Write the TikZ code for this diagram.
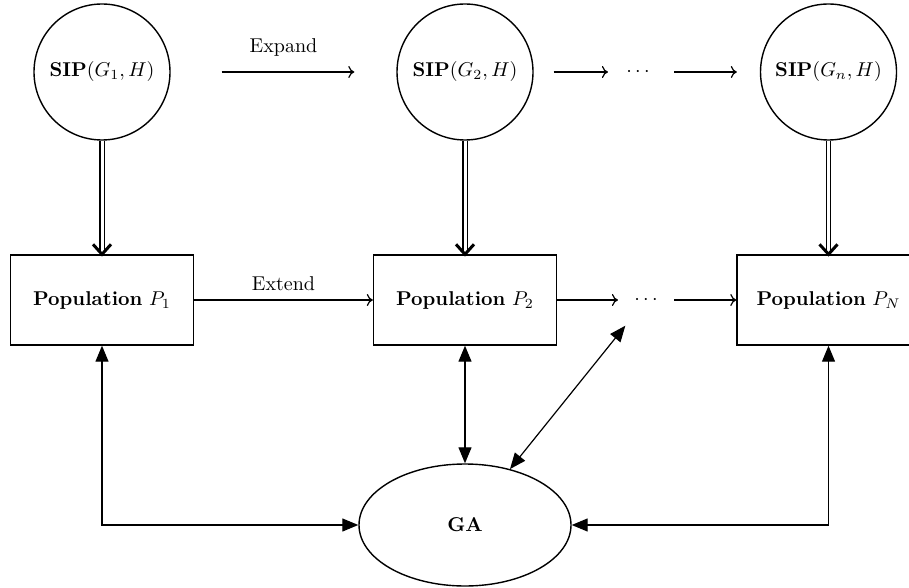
\documentclass[tikz,border=0pt]{standalone}
\usetikzlibrary{arrows.meta,shapes.geometric,calc}
\begin{document}
\begin{tikzpicture}[x=1pt,y=1pt,
  sipnode/.style={circle,draw,line width=0.7pt,minimum size=68pt,inner sep=0pt},
  popnode/.style={rectangle,draw,line width=0.7pt,minimum width=91.5pt,minimum height=45pt,inner sep=0pt},
  ganode/.style={ellipse,draw,line width=0.7pt,minimum width=106pt,minimum height=61pt,inner sep=0pt},
  dotsnode/.style={inner sep=0pt},
  flow/.style={line width=0.6pt,-{To[length=3pt,width=6pt]}},
  link/.style={line width=0.6pt,{Triangle[length=8pt,width=6.5pt]}-{Triangle[length=8pt,width=6.5pt]}},
  feed/.style={line width=0.65pt,double,double distance=1.5pt,shorten >=1pt},
  barb/.style={line width=1.5pt,line join=miter}
]
\useasboundingbox (0,0) rectangle (454.5,-294);

% search problems
\node[sipnode] (c1) at (51,-36) {$\mathbf{SIP}(G_1,H)$};
\node[sipnode] (c2) at (232.5,-36) {$\mathbf{SIP}(G_2,H)$};
\node[sipnode] (cn) at (414.25,-36) {$\mathbf{SIP}(G_n,H)$};
\node[dotsnode] (tdots) at (319,-36) {$\cdots$};

% populations
\node[popnode] (b1) at (51,-150) {\textbf{Population} $P_1$};
\node[popnode] (b2) at (232.5,-150) {\textbf{Population} $P_2$};
\node[popnode] (bN) at (414.25,-150) {\textbf{Population} $P_N$};
\node[dotsnode] (mdots) at (323,-150) {$\cdots$};

% genetic algorithm
\node[ganode] (ga) at (232.5,-262.5) {\textbf{GA}};

% top row
\draw[flow,shorten <=25.5pt,shorten >=21pt] (c1) -- node[above=4pt]{Expand} (c2);
\draw[flow,shorten <=10pt,shorten >=9pt] (c2) -- (tdots);
\draw[flow,shorten <=12pt,shorten >=11.5pt] (tdots) -- (cn);

% middle row
\draw[flow] (b1) -- node[above=1pt]{Extend} (b2);
\draw[flow,shorten >=8pt] (b2) -- (mdots);
\draw[flow,shorten <=8pt] (mdots) -- (bN);

% problems feed the populations
\foreach \c/\b in {c1/b1,c2/b2,cn/bN}{
  \draw[feed] (\c.south) -- (\b.north);
  \draw[barb] ($(\b.north)+(-4.5pt,5pt)$) -- (\b.north) -- ($(\b.north)+(4.5pt,5pt)$);
}

% exchanges with the GA
\draw[link] (b1.south) |- (ga.west);
\draw[link] (bN.south) |- (ga.east);
\draw[link] (b2.south) -- (ga.north);
\draw[link,shorten >=16.5pt] (ga) -- (mdots.center);
\end{tikzpicture}
\end{document}
